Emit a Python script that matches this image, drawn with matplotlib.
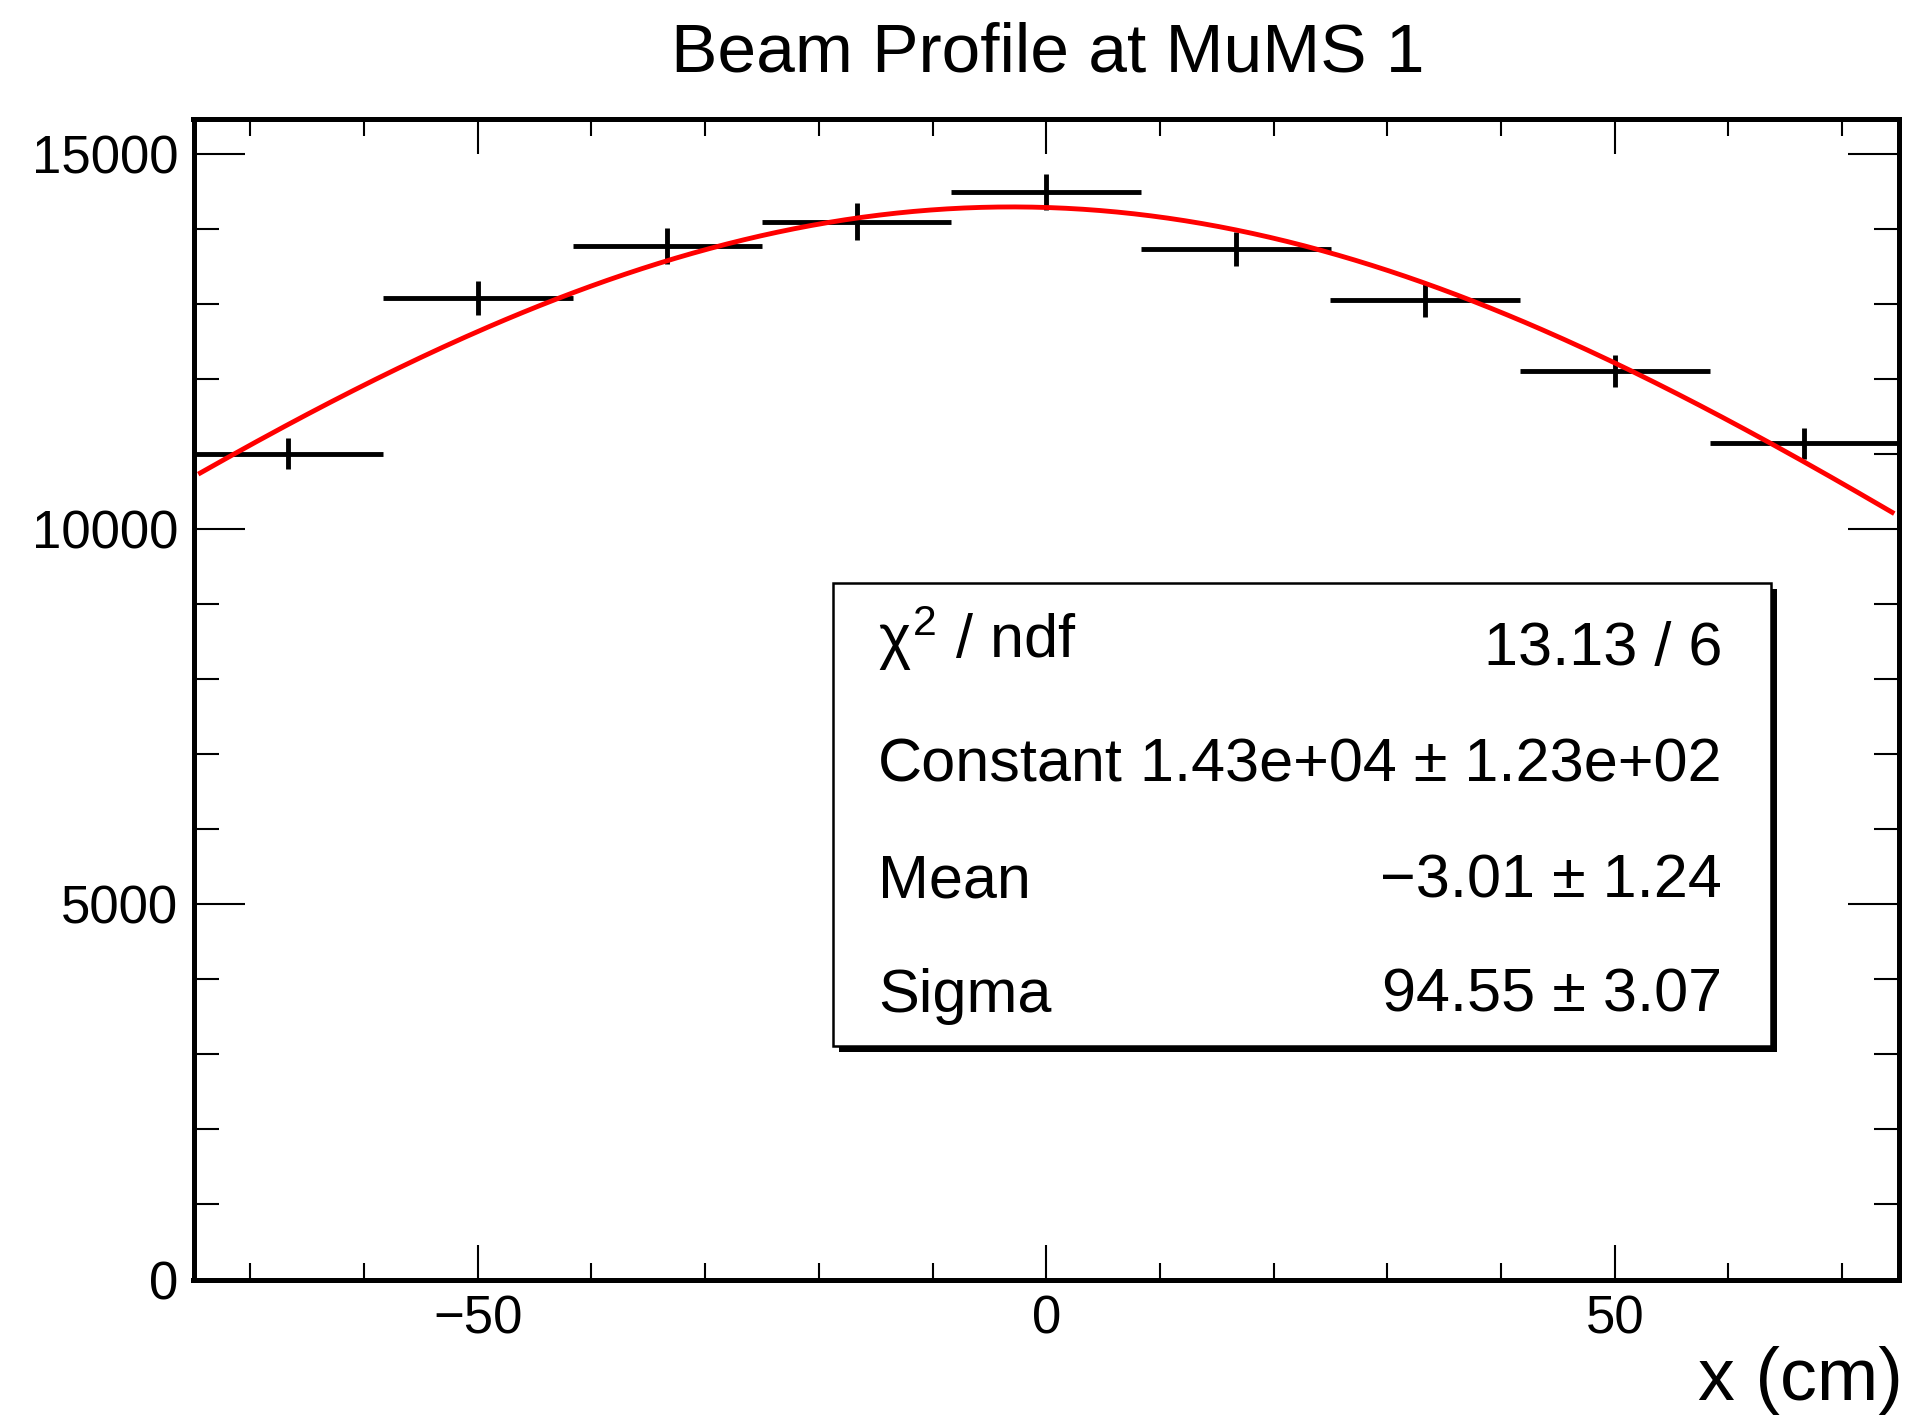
import numpy as np
import matplotlib
matplotlib.use("Agg")
import matplotlib.pyplot as plt
from matplotlib.patches import Rectangle
from matplotlib.ticker import MultipleLocator

plt.rcParams['font.family'] = ['Liberation Sans', 'DejaVu Sans']
plt.rcParams['mathtext.fontset'] = 'custom'
plt.rcParams['mathtext.rm'] = 'Liberation Sans'
plt.rcParams['mathtext.it'] = 'Liberation Sans'

# Histogram bins (x in cm) and contents
bin_centers = [-66.67, -50.0, -33.33, -16.67, 0.0, 16.67, 33.33, 50.0, 66.67]
bin_width = 16.667
counts = [11010, 13085, 13775, 14105, 14500, 13740, 13065, 12110, 11150]
errors = [207, 227, 242, 245, 242, 227, 227, 212, 207]

# Gaussian fit parameters
fit_const = 14300
fit_mean = -3.01
fit_sigma = 94.55
fit_range = [-74.4, 74.4]

# Stats box text
stat_names = [r"$\chi^{2}$ / ndf", "Constant", "Mean", "Sigma"]
stat_values = ["13.13 / 6", "1.43e+04 ± 1.23e+02", "\u22123.01 ± 1.24", "94.55 ± 3.07"]

W, H = 1905, 1415
fig = plt.figure(figsize=(W / 100, H / 100), dpi=100)
ax = fig.add_axes([193.5 / W, 1 - 1279.5 / H, (1899 - 193.5) / W, (1279.5 - 118.5) / H])

# histogram drawn with error bars (ROOT "E" style)
ax.errorbar(bin_centers, counts, xerr=bin_width / 2, yerr=errors, fmt='none',
            ecolor='black', elinewidth=3.5, capsize=0)

# fitted gaussian
xf = np.linspace(fit_range[0], fit_range[1], 300)
yf = fit_const * np.exp(-0.5 * ((xf - fit_mean) / fit_sigma) ** 2)
ax.plot(xf, yf, color='red', lw=3.5, zorder=3)

ax.set_xlim(-75, 75)
ymax = 1.05 * max(c + e for c, e in zip(counts, errors))
ax.set_ylim(0, ymax)

ax.xaxis.set_major_locator(MultipleLocator(50))
ax.xaxis.set_minor_locator(MultipleLocator(10))
ax.yaxis.set_major_locator(MultipleLocator(5000))
ax.yaxis.set_minor_locator(MultipleLocator(1000))

ax.tick_params(which='both', direction='in', top=True, right=True, width=1.5,
               labelsize=38, pad=11)
ax.tick_params(axis='x', which='major', length=25)
ax.tick_params(axis='x', which='minor', length=12)
ax.tick_params(axis='y', which='major', length=37)
ax.tick_params(axis='y', which='minor', length=18)
for s in ax.spines.values():
    s.set_linewidth(3.6)

# title and axis label
fig.text(1048 / W, 1 - 72 / H, "Beam Profile at MuMS 1", ha='center', va='baseline', fontsize=50)
fig.text(1903 / W, 1 - 1400 / H, "x (cm)", ha='right', va='baseline', fontsize=53)

# stats box with shadow
bx0, bx1, by0, by1 = 833, 1771, 583, 1046
sh = 6
fig.add_artist(Rectangle(((bx0 + sh) / W, 1 - (by1 + sh) / H), (bx1 - bx0) / W, (by1 - by0) / H,
                         transform=fig.transFigure, facecolor='black', edgecolor='none', zorder=5))
fig.add_artist(Rectangle((bx0 / W, 1 - by1 / H), (bx1 - bx0) / W, (by1 - by0) / H,
                         transform=fig.transFigure, facecolor='white', edgecolor='black',
                         linewidth=1.8, zorder=6))
baselines = [658, 781, 897, 1012]
value_baselines = [665, 781, 897, 1012]
for name, val, yb, yv in zip(stat_names, stat_values, baselines, value_baselines):
    fig.text(878 / W, 1 - yb / H, name, ha='left', va='baseline', fontsize=44, zorder=7)
    fig.text(1722 / W, 1 - yv / H, val, ha='right', va='baseline', fontsize=44, zorder=7)

plt.savefig("out.png", dpi=100)
